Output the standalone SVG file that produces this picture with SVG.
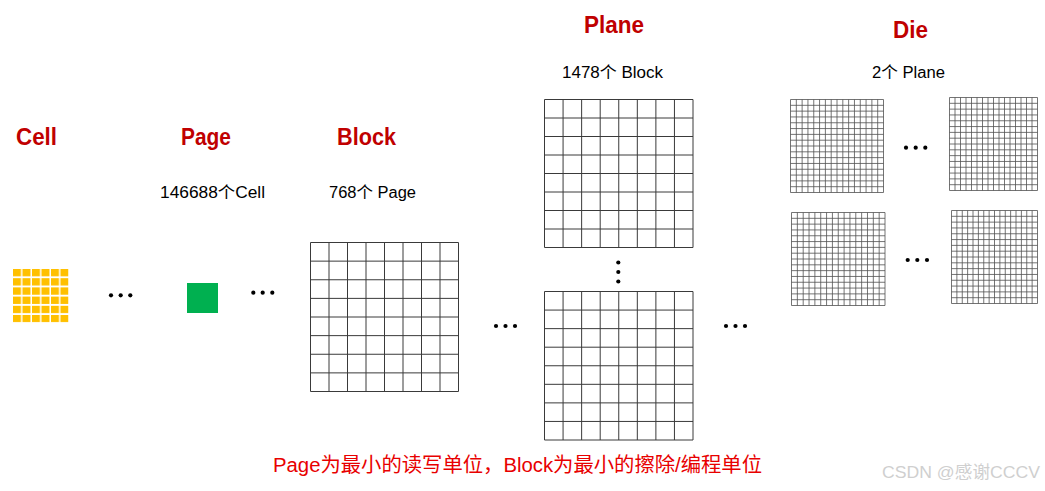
<svg xmlns="http://www.w3.org/2000/svg" xmlns:xlink="http://www.w3.org/1999/xlink" width="1045" height="491" viewBox="0 0 1045 491">
<style>
.title{font-family:"Liberation Sans","Noto Sans CJK SC",sans-serif;font-weight:bold;font-size:24px;fill:#C00000}
.sub{font-family:"Liberation Sans","Noto Sans CJK SC",sans-serif;font-size:16px;fill:#000}
.note{font-family:"Liberation Sans","Noto Sans CJK SC",sans-serif;font-size:20px;fill:#E80000}
.wm{font-family:"Liberation Sans","Noto Sans CJK SC",sans-serif;font-size:17px;fill:#cfcfcf}
.g8{fill:#fff;stroke:#3a3a3a;stroke-width:1}
.g16{fill:#fff;stroke:#505050;stroke-width:0.8}
.dot{fill:#000}
</style>
<defs>
<symbol id="grid8" viewBox="0 0 8 8" preserveAspectRatio="none" overflow="visible">
<path class="g8" vector-effect="non-scaling-stroke" d="M0 0H8V8H0Z M1 0V8 M2 0V8 M3 0V8 M4 0V8 M5 0V8 M6 0V8 M7 0V8 M0 1H8 M0 2H8 M0 3H8 M0 4H8 M0 5H8 M0 6H8 M0 7H8"/>
</symbol>
<symbol id="grid16" viewBox="0 0 16 16" preserveAspectRatio="none" overflow="visible">
<path class="g16" vector-effect="non-scaling-stroke" d="M0 0H16V16H0Z M1 0V16 M2 0V16 M3 0V16 M4 0V16 M5 0V16 M6 0V16 M7 0V16 M8 0V16 M9 0V16 M10 0V16 M11 0V16 M12 0V16 M13 0V16 M14 0V16 M15 0V16 M0 1H16 M0 2H16 M0 3H16 M0 4H16 M0 5H16 M0 6H16 M0 7H16 M0 8H16 M0 9H16 M0 10H16 M0 11H16 M0 12H16 M0 13H16 M0 14H16 M0 15H16"/>
</symbol>
<pattern id="cellp" x="13" y="269" width="9.5" height="9.2" patternUnits="userSpaceOnUse">
<rect width="8" height="7.3" fill="#FFC000"/>
</pattern>
</defs>
<rect width="1045" height="491" fill="#fff"/>

<g id="cell">
<text class="title" x="16" y="145" textLength="41" lengthAdjust="spacingAndGlyphs">Cell</text>
<rect x="13" y="269" width="55.5" height="53.3" fill="url(#cellp)"/>
</g>

<g id="page">
<text class="title" x="181" y="145" textLength="50" lengthAdjust="spacingAndGlyphs">Page</text>
<text class="sub" x="160" y="198" textLength="105" lengthAdjust="spacingAndGlyphs">146688个Cell</text>
<rect x="187" y="283" width="31" height="30" fill="#00B050"/>
</g>

<g id="block">
<text class="title" x="337" y="145" textLength="59" lengthAdjust="spacingAndGlyphs">Block</text>
<text class="sub" x="329" y="198" textLength="87" lengthAdjust="spacingAndGlyphs">768个 Page</text>
<use xlink:href="#grid8" x="310.5" y="242.5" width="148" height="149"/>
</g>

<g id="plane">
<text class="title" x="584" y="32.7" textLength="60" lengthAdjust="spacingAndGlyphs">Plane</text>
<text class="sub" x="562" y="78" textLength="101" lengthAdjust="spacingAndGlyphs">1478个 Block</text>
<use xlink:href="#grid8" x="544.5" y="99.5" width="148.5" height="148"/>
<use xlink:href="#grid8" x="544.5" y="291.5" width="148.5" height="148.5"/>
</g>

<g id="die">
<text class="title" x="893" y="37.7" textLength="35" lengthAdjust="spacingAndGlyphs">Die</text>
<text class="sub" x="872" y="77.7" textLength="73" lengthAdjust="spacingAndGlyphs">2个 Plane</text>
<use xlink:href="#grid16" x="790.5" y="99.5" width="93" height="93"/>
<use xlink:href="#grid16" x="949.5" y="97.5" width="88" height="93"/>
<use xlink:href="#grid16" x="791.5" y="212.5" width="93.5" height="93"/>
<use xlink:href="#grid16" x="951.5" y="210.5" width="86" height="93"/>
</g>

<g id="connectors">
<circle class="dot" cx="111" cy="295.3" r="2.1"/>
<circle class="dot" cx="120.7" cy="295.3" r="2.1"/>
<circle class="dot" cx="130.3" cy="295.3" r="2.1"/>
<circle class="dot" cx="253.3" cy="292.7" r="2.1"/>
<circle class="dot" cx="262.7" cy="292.7" r="2.1"/>
<circle class="dot" cx="272.3" cy="292.7" r="2.1"/>
<circle class="dot" cx="496" cy="326" r="2.1"/>
<circle class="dot" cx="505.5" cy="326" r="2.1"/>
<circle class="dot" cx="515" cy="326" r="2.1"/>
<circle class="dot" cx="726" cy="326" r="2.1"/>
<circle class="dot" cx="735.5" cy="326" r="2.1"/>
<circle class="dot" cx="745" cy="326" r="2.1"/>
<circle class="dot" cx="618.3" cy="262.5" r="2.1"/>
<circle class="dot" cx="618.3" cy="272" r="2.1"/>
<circle class="dot" cx="618.3" cy="281.5" r="2.1"/>
<circle class="dot" cx="906" cy="147.7" r="2.1"/>
<circle class="dot" cx="915.7" cy="147.7" r="2.1"/>
<circle class="dot" cx="925.3" cy="147.7" r="2.1"/>
<circle class="dot" cx="907.7" cy="260" r="2.1"/>
<circle class="dot" cx="917.3" cy="260" r="2.1"/>
<circle class="dot" cx="927" cy="260" r="2.1"/>
</g>

<text class="note" x="273" y="472" textLength="489" lengthAdjust="spacingAndGlyphs">Page为最小的读写单位，Block为最小的擦除/编程单位</text>
<text class="wm" x="882" y="478" textLength="158" lengthAdjust="spacingAndGlyphs">CSDN @感谢CCCV</text>
</svg>
